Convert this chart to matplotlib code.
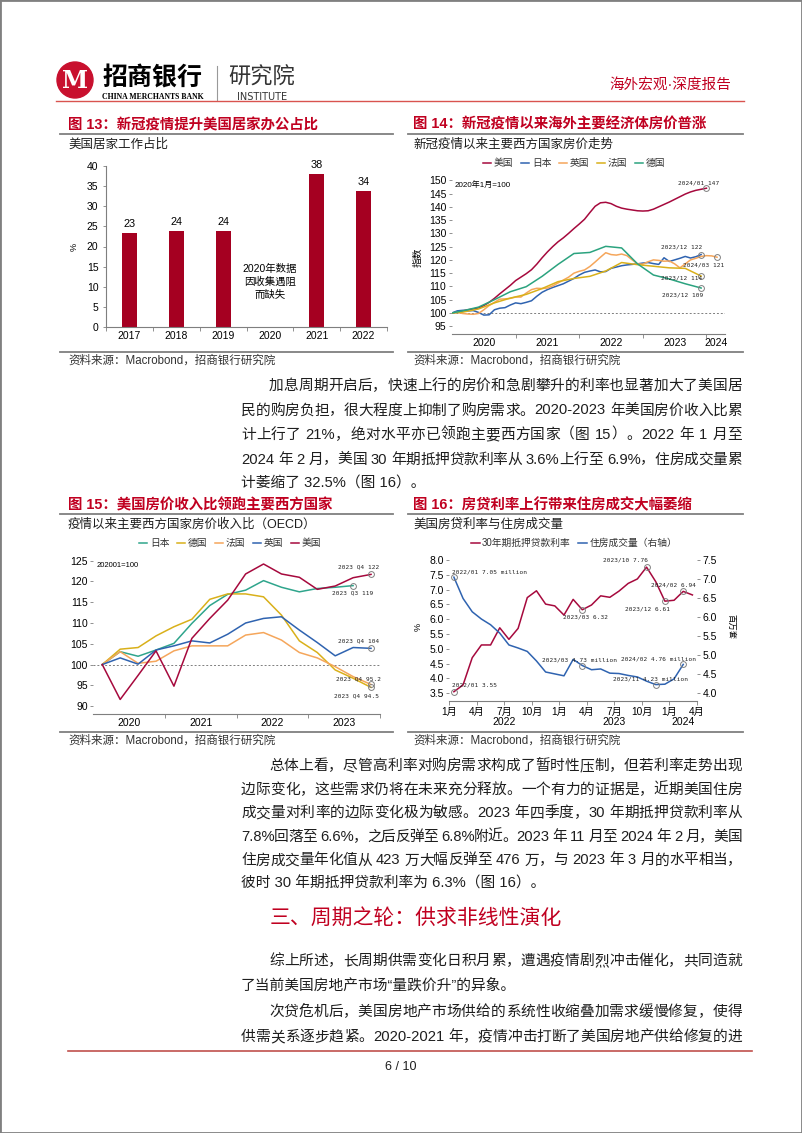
import re

import matplotlib

matplotlib.use("Agg")
import matplotlib.patches as mpatches
import matplotlib.pyplot as plt
import numpy as np
from matplotlib.lines import Line2D

plt.rcParams["font.family"] = ["Liberation Sans", "Noto Sans CJK SC"]
plt.rcParams["axes.unicode_minus"] = False

# ---------------- data ----------------
# fig 13: share working from home (%)
wfh_years = ["2017", "2018", "2019", "2020", "2021", "2022"]
wfh_share = [23.4, 23.8, 23.8, np.nan, 38.1, 33.9]

# fig 14: house prices, 2020-01 = 100 (monthly from 2020-01; FR/DE quarterly)
hp_years = ["2020", "2021", "2022", "2023", "2024"]
us_hp = [100.0, 100.3, 100.8, 101.2, 101.5, 101.9, 102.8, 104.0, 105.5, 107.2,
         108.8, 110.4, 112.2, 113.5, 114.8, 116.3, 118.4, 120.8, 123.0, 125.0,
         126.8, 128.3, 130.0, 131.8, 133.5, 135.3, 137.8, 140.2, 141.5, 141.7,
         141.2, 140.2, 139.5, 139.1, 138.8, 138.5, 138.4, 138.5, 139.1, 140.0,
         140.9, 141.8, 142.8, 143.8, 144.8, 145.6, 146.2, 146.6, 147.0]
jp_hp = [100.0, 100.8, 101.0, 100.8, 100.9, 100.2, 99.2, 99.3, 101.2, 101.8,
         102.0, 103.0, 103.8, 103.5, 104.0, 104.6, 106.3, 107.8, 108.8, 109.6,
         110.3, 111.0, 112.0, 113.0, 114.3, 115.3, 115.8, 116.2, 115.5, 115.6,
         116.8, 117.3, 117.8, 118.1, 118.3, 118.5, 118.8, 119.0, 118.6, 118.3,
         120.8, 119.4, 120.0, 120.6, 121.3, 120.7, 121.2, 122.0]
uk_hp = [100.0, 100.2, 99.8, 99.6, 99.5, 99.8, 101.2, 102.8, 104.0, 105.2,
         105.3, 105.5, 106.0, 106.0, 107.5, 108.8, 109.3, 109.2, 109.4, 110.2,
         111.3, 112.4, 113.5, 115.0, 115.7, 116.2, 117.5, 119.2, 121.0, 122.7,
         122.0, 121.8, 122.2, 121.6, 120.0, 118.5, 118.4, 119.3, 120.0, 119.8,
         119.5, 119.6, 118.5, 117.0, 118.5, 120.0, 120.6, 121.3, 121.6, 121.5,
         121.0]
q_months = [0, 2, 5, 8, 11, 14, 17, 20, 23, 26, 29, 32, 35, 38, 41, 44, 47]
fr_hp = [100.0, 100.3, 101.5, 103.8, 105.6, 107.0, 109.2, 111.8, 113.0, 113.8,
         115.8, 119.0, 118.2, 117.6, 117.0, 116.8, 113.9]
de_hp = [100.0, 100.8, 102.2, 105.0, 108.0, 109.9, 113.8, 118.3, 122.4, 122.8,
         125.1, 124.5, 118.5, 114.3, 112.8, 111.0, 109.4]

# fig 15: price-to-income ratio, 2020Q1 = 100 (quarterly)
pti_years = ["2020", "2021", "2022", "2023"]
jp_pti = [100.0, 103.1, 102.0, 103.5, 105.1, 109.9, 114.2, 116.9, 117.9, 120.2,
          118.6, 117.5, 118.3, 118.6, 119.0]
de_pti = [100.0, 103.7, 104.1, 106.9, 109.1, 110.9, 115.7, 117.0, 117.0, 116.3,
          111.9, 105.7, 102.9, 98.7, 96.7, 94.5]
fr_pti = [100.0, 103.1, 100.3, 100.8, 103.3, 104.5, 104.5, 104.5, 107.1, 107.7,
          105.9, 102.9, 101.6, 99.5, 97.1, 95.2]
uk_pti = [100.0, 101.6, 100.1, 103.5, 104.5, 105.7, 105.2, 107.3, 110.0, 111.1,
          111.5, 108.3, 105.3, 102.1, 104.1, 103.9]
us_pti = [100.0, 91.6, 97.4, 103.3, 94.8, 106.3, 111.1, 115.5, 121.8, 124.2,
          121.8, 121.0, 118.1, 118.9, 120.9, 121.7]

# fig 16: 30y mortgage rate (%) and home sales (mn), monthly from 2022-01
month_labels = ["1月", "4月", "7月", "10月", "1月", "4月", "7月", "10月", "1月", "4月"]
sales_years = ["2022", "2023", "2024"]
mort_rate = [3.55, 3.78, 4.70, 5.13, 5.13, 5.71, 5.32, 5.69, 6.73, 6.96,
             6.51, 6.45, 6.14, 6.67, 6.32, 6.48, 6.79, 6.74, 6.95, 7.21,
             7.36, 7.76, 7.27, 6.61, 6.64, 6.94, 6.82]
home_sales = [7.05, 6.49, 6.14, 5.95, 5.80, 5.58, 5.27, 5.19, 5.10, 4.85,
              4.56, 4.51, 4.46, 4.89, 4.73, 4.62, 4.64, 4.53, 4.52, 4.47,
              4.43, 4.32, 4.23, 4.24, 4.38, 4.76]
mort_tags = [(0, "2022/01"), (14, "2023/03"), (21, "2023/10"), (23, "2023/12"), (25, "2024/02")]
sales_tags = [(0, "2022/01"), (14, "2023/03"), (22, "2023/11"), (25, "2024/02")]

# ---------------- page ----------------
W, H = 802, 1133
RED = "#A6093D"
TITLE_RED = "#C00020"
GREY = "#7F7F7F"
BLUE = "#2F63B0"
ORANGE = "#F5A65B"
GOLD = "#D9B01A"
GREEN = "#2BA37F"
TXT = "#1E1E1E"

fig = plt.figure(figsize=(W / 100, H / 100), dpi=100)
renderer = fig.canvas.get_renderer()


def fx(x):
    return x / W


def fy(y):
    return 1 - y / H


def add_ax(x0, y0, x1, y1):
    return fig.add_axes([fx(x0), fy(y1), (x1 - x0) / W, (y1 - y0) / H])


def hline(x0, x1, y, color=GREY, lw=1.3):
    fig.add_artist(Line2D([fx(x0), fx(x1)], [fy(y), fy(y)], color=color, lw=lw))


def ftext(x, y, s, **kw):
    kw.setdefault("va", "center")
    return fig.text(fx(x), fy(y), s, **kw)


# page frame
fig.add_artist(mpatches.Rectangle((0, 0), 1, 1, transform=fig.transFigure,
                                  fill=False, edgecolor="#808080", lw=2))

# header
fig.add_artist(mpatches.Ellipse((fx(75), fy(80)), 36 / W, 36 / H, color="#C8102E"))
ftext(75, 81, "M", ha="center", color="white", fontsize=17, fontweight="bold",
      family="DejaVu Serif")
ftext(153, 79, "招商银行", ha="center", fontsize=18, fontweight="bold", color="black",
      family=["Noto Sans CJK SC"])
ftext(153, 97, "CHINA MERCHANTS BANK", ha="center", fontsize=5.6, fontweight="bold",
      family="Liberation Serif")
fig.add_artist(Line2D([fx(217), fx(217)], [fy(66), fy(100)], color="#999999", lw=0.8))
ftext(262, 78, "研究院", ha="center", fontsize=16, color="#333333")
ftext(262, 97, "INSTITUTE", ha="center", fontsize=7, color="#333333", family="DejaVu Sans")
ftext(670, 85, "海外宏观·深度报告", ha="center", fontsize=10.5, color=TITLE_RED)
hline(56, 744, 101, color="#D9534F", lw=1.0)


def block(x0, x1, ytop, ybot, tx, title, subtitle):
    ftext(tx, ytop, title, fontsize=10.4, fontweight="bold", color=TITLE_RED)
    hline(x0, x1, ytop + 9)
    ftext(tx, ytop + 20, subtitle, fontsize=9, color=TXT)
    hline(x0, x1, ybot)
    ftext(tx, ybot + 8.5, "资料来源：Macrobond，招商银行研究院", fontsize=8.3, color="#333333")


def style(ax, left_spine=False):
    for s in ["top", "right"]:
        ax.spines[s].set_visible(False)
    ax.spines["left"].set_visible(left_spine)
    ax.spines["left"].set_color(GREY)
    ax.spines["bottom"].set_color(GREY)
    ax.spines["bottom"].set_linewidth(0.8)
    ax.tick_params(axis="y", length=2.5, width=0.6, color=GREY, labelsize=7.5, pad=1.5)
    ax.tick_params(axis="x", which="major", length=0, labelsize=7.5, pad=3)
    ax.tick_params(axis="x", which="minor", length=3, width=0.6, color=GREY)
    ax.patch.set_alpha(0)


def tag(ax, x, y, s, dx, dy, ha="center"):
    ax.plot([x], [y], "o", ms=4.2, mfc="none", mec=GREY, mew=0.7, zorder=5, clip_on=False)
    ax.annotate(s, (x, y), xytext=(dx, dy), textcoords="offset pixels", ha=ha, va="center",
                fontsize=4.4, family="DejaVu Sans Mono", color="#222222", zorder=6)


def legend(ax, handles, cx, cy):
    ax.legend(handles=handles, frameon=False, fontsize=7, ncol=len(handles), handlelength=0.9,
              handletextpad=0.25, columnspacing=0.75, loc="center",
              bbox_to_anchor=(fx(cx), fy(cy)), bbox_transform=fig.transFigure,
              borderaxespad=0, labelcolor="#333333")


# ---------------- fig 13 ----------------
block(60, 393, 125, 352, 68, "图 13：新冠疫情提升美国居家办公占比", "美国居家工作占比")
ax1 = add_ax(106, 166, 387, 327)
xs = np.arange(len(wfh_years))
ax1.bar(xs, wfh_share, width=0.32, color="#A50021")
for xi, v in zip(xs, wfh_share):
    if not np.isnan(v):
        ax1.annotate(f"{v:.0f}", (xi, v), xytext=(0, 4), textcoords="offset pixels",
                     ha="center", va="bottom", fontsize=7.8)
ax1.set_xlim(-0.5, 5.5)
ax1.set_ylim(0, 40)
ax1.set_yticks(range(0, 41, 5))
ax1.set_xticks(xs, wfh_years)
ax1.set_xticks(np.arange(-0.5, 6, 1), minor=True)
style(ax1, left_spine=True)
ax1.tick_params(axis="y", pad=3)
ax1.text(3, 11.2, "2020年数据\n因收集遇阻\n而缺失", ha="center", va="center", fontsize=7.5,
         linespacing=1.3)
ftext(74, 247, "%", rotation=90, ha="center", fontsize=6.5)

# ---------------- fig 14 ----------------
block(408, 743, 125, 352, 413, "图 14：新冠疫情以来海外主要经济体房价普涨",
      "新冠疫情以来主要西方国家房价走势")
ax2 = add_ax(452, 177.6, 725, 334.2)
ax2.axhline(100, color=GREY, lw=0.7, ls=(0, (2, 2)))
l_us, = ax2.plot(np.arange(len(us_hp)), us_hp, color=RED, lw=1.1, label="美国")
l_jp, = ax2.plot(np.arange(len(jp_hp)), jp_hp, color=BLUE, lw=1.1, label="日本")
l_uk, = ax2.plot(np.arange(len(uk_hp)), uk_hp, color=ORANGE, lw=1.1, label="英国")
l_fr, = ax2.plot(q_months, fr_hp, color=GOLD, lw=1.1, label="法国")
l_de, = ax2.plot(q_months, de_hp, color=GREEN, lw=1.1, label="德国")
ax2.set_xlim(0, 51.5)
ax2.set_ylim(92, 151)
ax2.set_yticks(range(95, 151, 5))
ax2.set_xticks([6, 18, 30, 42, 49.75], hp_years)
ax2.set_xticks([12, 24, 36, 48], minor=True)
style(ax2)
ax2.text(0.01, 0.955, "2020年1月=100", transform=ax2.transAxes, fontsize=5.8, va="center")
tag(ax2, len(us_hp) - 1, us_hp[-1], f"2024/01 {us_hp[-1]:.0f}", -8, 5.6)
tag(ax2, len(jp_hp) - 1, jp_hp[-1], f"2023/12 {jp_hp[-1]:.0f}", -19.7, 7.7)
tag(ax2, len(uk_hp) - 1, uk_hp[-1], f"2024/03 {uk_hp[-1]:.0f}", -13.7, -8)
tag(ax2, q_months[-1], fr_hp[-1], f"2023/12 {fr_hp[-1]:.0f}", -19.3, -2.3)
tag(ax2, q_months[-1], de_hp[-1], f"2023/12 {de_hp[-1]:.0f}", -18.7, -7)
legend(ax2, [l_us, l_jp, l_uk, l_fr, l_de], 574, 163)
ftext(418, 257, "指数", rotation=90, ha="center", fontsize=7)

# ---------------- fig 15 ----------------
block(60, 393, 505, 732, 68, "图 15：美国房价收入比领跑主要西方国家",
      "疫情以来主要西方国家房价收入比（OECD）")
ax3 = add_ax(93.3, 558.6, 380, 714)
ax3.axhline(100, color=GREY, lw=0.7, ls=(0, (2, 2)))
p_jp, = ax3.plot(np.arange(len(jp_pti)), jp_pti, color="#2FA58C", lw=1.1, label="日本")
p_de, = ax3.plot(np.arange(len(de_pti)), de_pti, color=GOLD, lw=1.1, label="德国")
p_fr, = ax3.plot(np.arange(len(fr_pti)), fr_pti, color=ORANGE, lw=1.1, label="法国")
p_uk, = ax3.plot(np.arange(len(uk_pti)), uk_pti, color=BLUE, lw=1.1, label="英国")
p_us, = ax3.plot(np.arange(len(us_pti)), us_pti, color=RED, lw=1.1, label="美国")
ax3.set_xlim(-0.5, 15.5)
ax3.set_ylim(88.1, 125.5)
ax3.set_yticks(range(90, 126, 5))
ax3.set_xticks([1.5, 5.5, 9.5, 13.5], pti_years)
ax3.set_xticks([3.5, 7.5, 11.5, 15.5], minor=True)
style(ax3)
ax3.text(0.01, 0.955, "202001=100", transform=ax3.transAxes, fontsize=5.5, va="center")
tag(ax3, len(us_pti) - 1, us_pti[-1], f"2023 Q4 {us_pti[-1]:.0f}", -12.7, 7.6)
tag(ax3, len(jp_pti) - 1, jp_pti[-1], f"2023 Q3 {jp_pti[-1]:.0f}", 0, -7)
tag(ax3, len(uk_pti) - 1, uk_pti[-1], f"2023 Q4 {uk_pti[-1]:.0f}", -12.7, 7.3)
tag(ax3, len(fr_pti) - 1, fr_pti[-1], f"2023 Q4 {fr_pti[-1]:.1f}", -12.7, 6)
tag(ax3, len(de_pti) - 1, de_pti[-1], f"2023 Q4 {de_pti[-1]:.1f}", -15, -8.3)
legend(ax3, [p_jp, p_de, p_fr, p_uk, p_us], 230, 543)

# ---------------- fig 16 ----------------
block(408, 743, 505, 732, 413, "图 16：房贷利率上行带来住房成交大幅萎缩", "美国房贷利率与住房成交量")
ax4 = add_ax(449.3, 555.6, 697, 700.7)
ax5 = ax4.twinx()
mx = np.arange(len(mort_rate)) + 0.5
sx = np.arange(len(home_sales)) + 0.5
h_rate, = ax4.plot(mx, mort_rate, color=RED, lw=1.1, label="30年期抵押贷款利率")
h_sales, = ax5.plot(sx, home_sales, color=BLUE, lw=1.1, label="住房成交量（右轴）")
ax4.set_xlim(0, 27)
ax4.set_ylim(3.247, 8.149)
ax5.set_ylim(3.807, 7.615)
ax4.set_yticks(np.arange(3.5, 8.01, 0.5))
ax5.set_yticks(np.arange(4.0, 7.51, 0.5))
ax4.yaxis.set_major_formatter("{x:.1f}")
ax5.yaxis.set_major_formatter("{x:.1f}")
ax4.set_xticks(np.arange(0, 28, 3), month_labels)
style(ax4)
for s in ["top", "left", "bottom", "right"]:
    ax5.spines[s].set_visible(False)
ax5.tick_params(axis="y", length=2.5, width=0.6, color=GREY, labelsize=7.5, pad=1.5)
ax4.tick_params(axis="x", which="major", length=3, width=0.6, color=GREY, pad=1.5,
                labelsize=7.3)
for xi, yl in zip([6, 18, 25.5], sales_years):
    ax4.text(xi, -(722 - 700.7) / 145.1, yl, transform=ax4.get_xaxis_transform(),
             ha="center", va="center", fontsize=7.5)
mort_off = [(-2.3, 6.7, "left"), (3, -7.7, "center"), (-21, 6.7, "center"),
            (-17.5, -8.3, "center"), (-10, 6.7, "center")]
for (i, d), (dx, dy, ha) in zip(mort_tags, mort_off):
    tag(ax4, mx[i], mort_rate[i], f"{d} {mort_rate[i]:.2f}", dx, dy, ha)
sales_off = [(-2.3, 5.3, "left"), (-2.5, 5.7, "center"), (-5, 6, "center"),
             (-24.5, 5.7, "center")]
for (i, d), (dx, dy, ha) in zip(sales_tags, sales_off):
    tag(ax5, sx[i], home_sales[i], f"{d} {home_sales[i]:.2f} million", dx, dy, ha)
legend(ax5, [h_rate, h_sales], 574, 543)
ftext(418, 627, "%", rotation=90, ha="center", fontsize=6.5)
ftext(731, 627, "百万套", rotation=270, ha="center", fontsize=6)

# ---------------- body text ----------------
CJK = "\u3000-\u303f\u4e00-\u9fff\uff00-\uffef\u201c\u201d"
TOK = re.compile(rf"\s+|[{CJK}]|[^\s{CJK}]+")
BODY = 10.6
EM = BODY * 100 / 72


def body_line(s, y, indent=False, justify=True):
    x0 = 269 if indent else 241
    x1 = 742
    base = fy(y + 5)
    if not justify:
        fig.text(fx(x0), base, s, fontsize=BODY, color=TXT, va="baseline")
        return
    items = []
    for t in TOK.findall(s):
        if t.isspace():
            items.append((None, EM * 0.3))
            continue
        a = fig.text(0, base, t, fontsize=BODY, color=TXT, va="baseline")
        if re.fullmatch(rf"[{CJK}]", t):
            w = EM
        else:
            w = a.get_window_extent(renderer).width
        items.append((a, w))
    gap = (x1 - x0 - sum(w for _, w in items)) / (len(items) - 1)
    x = x0
    for a, w in items:
        if a is not None:
            a.set_x(fx(x))
        x += w + gap


para1 = [
    "加息周期开启后，快速上行的房价和急剧攀升的利率也显著加大了美国居",
    "民的购房负担，很大程度上抑制了购房需求。2020-2023 年美国房价收入比累",
    "计上行了 21%，绝对水平亦已领跑主要西方国家（图 15）。2022 年 1 月至",
    "2024 年 2 月，美国 30 年期抵押贷款利率从 3.6%上行至 6.9%，住房成交量累",
    "计萎缩了 32.5%（图 16）。",
]
para2 = [
    "总体上看，尽管高利率对购房需求构成了暂时性压制，但若利率走势出现",
    "边际变化，这些需求仍将在未来充分释放。一个有力的证据是，近期美国住房",
    "成交量对利率的边际变化极为敏感。2023 年四季度，30 年期抵押贷款利率从",
    "7.8%回落至 6.6%，之后反弹至 6.8%附近。2023 年 11 月至 2024 年 2 月，美国",
    "住房成交量年化值从 423 万大幅反弹至 476 万，与 2023 年 3 月的水平相当，",
    "彼时 30 年期抵押贷款利率为 6.3%（图 16）。",
]
para3 = [
    "综上所述，长周期供需变化日积月累，遭遇疫情剧烈冲击催化，共同造就",
    "了当前美国房地产市场“量跌价升”的异象。",
]
para4 = [
    "次贷危机后，美国房地产市场供给的系统性收缩叠加需求缓慢修复，使得",
    "供需关系逐步趋紧。2020-2021 年，疫情冲击打断了美国房地产供给修复的进",
]


def paragraph(lines, y0, step, last_full=False):
    for k, s in enumerate(lines):
        last = k == len(lines) - 1 and not last_full
        body_line(s, y0 + k * step, indent=(k == 0), justify=not last)


paragraph(para1, 385, 24.5)
paragraph(para2, 765, 23.6)
ftext(270, 918, "三、周期之轮：供求非线性演化", fontsize=15, color=TITLE_RED)
paragraph(para3, 960, 25)
paragraph(para4, 1011, 25, last_full=True)

hline(68, 752, 1051, color="#C0504D", lw=1.2)
ftext(401, 1067, "6 / 10", ha="center", fontsize=9, color=TXT)

fig.savefig("out.png", dpi=100)
